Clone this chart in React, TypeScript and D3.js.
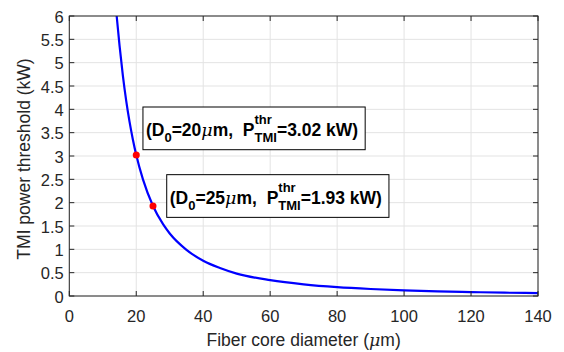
import React, { useEffect, useRef } from "react";
import * as d3 from "d3";

// Curve values: fiber core diameter (µm) vs TMI threshold (kW)
const diameters = [14.15, 15, 16, 17, 18, 19, 20, 22, 25, 28, 30, 35, 40, 45, 50, 60, 70, 80, 90, 100, 110, 120, 130, 140];
const thresholds = [6.0, 5.37, 4.72, 4.18, 3.73, 3.35, 3.02, 2.5, 1.93, 1.54, 1.34, 0.99, 0.755, 0.6, 0.48, 0.34, 0.25, 0.19, 0.15, 0.12, 0.1, 0.084, 0.071, 0.062];

// Highlighted points
const markD = [20, 25];
const markP = [3.02, 1.93];
const markLabelD = ["20", "25"];
const markLabelP = ["3.02", "1.93"];
// annotation anchor (data coords, top-left of the box)
const annX = [22, 29.1];
const annY = [4.05, 2.6];

const xTicks = [0, 20, 40, 60, 80, 100, 120, 140];
const yTicks = [0, 0.5, 1, 1.5, 2, 2.5, 3, 3.5, 4, 4.5, 5, 5.5, 6];

const W = 564, H = 352;
const M = { left: 69.3, right: 26, top: 16, bottom: 56 };
const FONT = "'Liberation Sans', Arial, Helvetica, sans-serif";
const AX = "#262626";
const TICK_FS = 16.5;
const LABEL_FS = 17.5;
const ANN_FS = 17.5;
const ANN_SUB = 13;

export default function App() {
  const ref = useRef<SVGSVGElement>(null);

  useEffect(() => {
    const svg = d3.select(ref.current);
    svg.selectAll("*").remove();
    const x = d3.scaleLinear().domain([0, 140]).range([M.left, W - M.right]);
    const y = d3.scaleLinear().domain([0, 6]).range([H - M.bottom, M.top]);
    const x0 = x(0), x1 = x(140), y0 = y(0), y1 = y(6);

    // grid
    const g = svg.append("g");
    g.selectAll("line.gx").data(xTicks).join("line")
      .attr("x1", d => x(d)).attr("x2", d => x(d)).attr("y1", y0).attr("y2", y1)
      .attr("stroke", "#e3e3e3").attr("stroke-width", 1);
    g.selectAll("line.gy").data(yTicks).join("line")
      .attr("x1", x0).attr("x2", x1).attr("y1", d => y(d)).attr("y2", d => y(d))
      .attr("stroke", "#e3e3e3").attr("stroke-width", 1);

    // curve
    const line = d3.line<number>()
      .x((_, i) => x(diameters[i])).y(d => y(d)).curve(d3.curveMonotoneX);
    svg.append("path").attr("d", line(thresholds)!).attr("fill", "none")
      .attr("stroke", "#0000ff").attr("stroke-width", 2.2);

    // frame + ticks
    const tl = 5;
    const fr = svg.append("g").attr("stroke", AX).attr("stroke-width", 1).attr("fill", "none");
    fr.append("rect").attr("x", x0).attr("y", y1).attr("width", x1 - x0).attr("height", y0 - y1);
    xTicks.forEach(t => {
      fr.append("line").attr("x1", x(t)).attr("x2", x(t)).attr("y1", y0).attr("y2", y0 - tl);
      fr.append("line").attr("x1", x(t)).attr("x2", x(t)).attr("y1", y1).attr("y2", y1 + tl);
    });
    yTicks.forEach(t => {
      fr.append("line").attr("x1", x0).attr("x2", x0 + tl).attr("y1", y(t)).attr("y2", y(t));
      fr.append("line").attr("x1", x1).attr("x2", x1 - tl).attr("y1", y(t)).attr("y2", y(t));
    });

    // tick labels
    svg.append("g").selectAll("text").data(xTicks).join("text")
      .attr("x", d => x(d)).attr("y", y0 + 25.7).attr("text-anchor", "middle")
      .attr("font-family", FONT).attr("font-size", TICK_FS).attr("fill", AX)
      .text(d => String(d));
    svg.append("g").selectAll("text").data(yTicks).join("text")
      .attr("x", x0 - 5.5).attr("y", d => y(d) + 6.5).attr("text-anchor", "end")
      .attr("font-family", FONT).attr("font-size", TICK_FS).attr("fill", AX)
      .text(d => String(d));

    // axis labels
    const xl = svg.append("text").attr("x", (x0 + x1) / 2).attr("y", 345.5).attr("text-anchor", "middle")
      .attr("font-family", FONT).attr("font-size", LABEL_FS).attr("fill", AX);
    xl.append("tspan").text("Fiber core diameter (");
    xl.append("tspan").attr("font-style", "italic").attr("font-family", "'DejaVu Serif', serif").text("μ");
    xl.append("tspan").text("m)");
    svg.append("text").attr("transform", `translate(30,${(y0 + y1) / 2 + 3}) rotate(-90)`)
      .attr("text-anchor", "middle").attr("font-family", FONT).attr("font-size", LABEL_FS).attr("fill", AX)
      .text("TMI power threshold (kW)");

    // annotations
    markD.forEach((dv, i) => {
      const bx = x(annX[i]), by = y(annY[i]);
      const ag = svg.append("g");
      const rect = ag.append("rect").attr("x", bx).attr("y", by).attr("height", 42.7)
        .attr("fill", "white").attr("stroke", "#000").attr("stroke-width", 1);
      const base = by + 29.4;
      let cx = bx + 3;
      const run = (s: string, size: number, dy: number, opts: { italic?: boolean } = {}) => {
        const t = ag.append("text").attr("x", cx).attr("y", base + dy)
          .attr("font-family", opts.italic ? "'DejaVu Serif', serif" : FONT)
          .attr("font-weight", opts.italic ? "normal" : "bold")
          .attr("font-style", opts.italic ? "italic" : "normal")
          .style("white-space", "pre")
          .attr("font-size", size).attr("fill", "#000").text(s);
        return (t.node() as SVGTextElement).getComputedTextLength();
      };
      cx += run("(D", ANN_FS, 0);
      cx += run("0", ANN_SUB, 5.5);
      cx += run("=" + markLabelD[i], ANN_FS, 0);
      cx += run("μ", ANN_FS, 0, { italic: true });
      cx += run("m,  P", ANN_FS, 0);
      const w1 = run("thr", ANN_SUB, -12.4);
      const w2 = run("TMI", ANN_SUB, 5.5);
      cx += Math.max(w1, w2);
      cx += run("=" + markLabelP[i] + " kW)", ANN_FS, 0);
      rect.attr("width", cx - bx + 7);
    });

    // points
    svg.append("g").selectAll("circle").data(markD).join("circle")
      .attr("cx", d => x(d)).attr("cy", (_, i) => y(markP[i])).attr("r", 3.5).attr("fill", "#ff0000");
  }, []);

  return (
    <svg ref={ref} width={W} height={H} style={{ position: "absolute", left: 0, top: 0, background: "white" }} />
  );
}
